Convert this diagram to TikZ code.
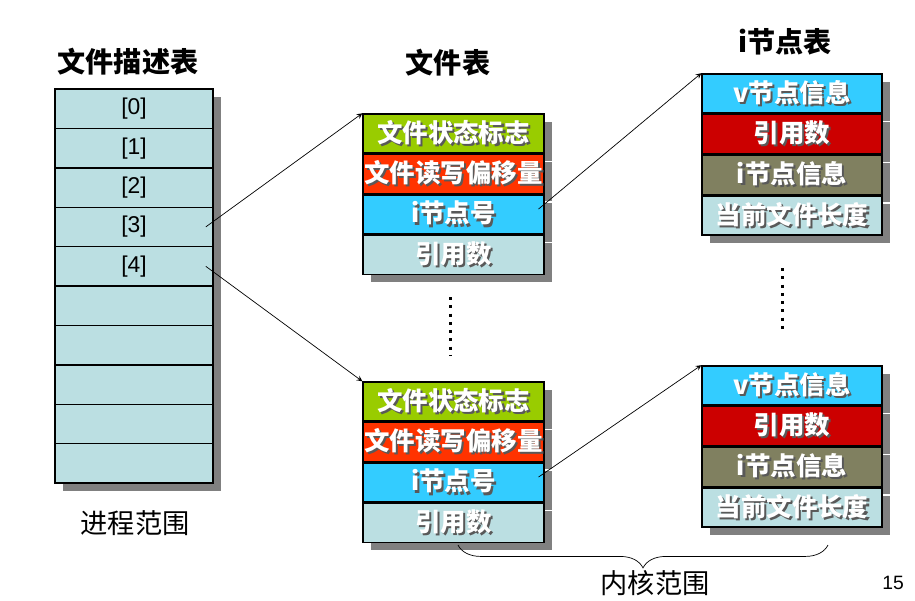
\documentclass[tikz,border=0pt]{standalone}
\usepackage{fontspec}
\usepackage{tikz}
\usetikzlibrary{positioning,shadows,decorations.pathreplacing}
\setmainfont{Liberation Sans}
\newfontfamily\cjk{Noto Sans CJK SC}
\definecolor{fgreen}{HTML}{99CC00}
\definecolor{fred}{HTML}{FF3300}
\definecolor{fcyan}{HTML}{33CCFF}
\definecolor{flight}{HTML}{BBDFE2}
\definecolor{ired}{HTML}{CC0000}
\definecolor{iolive}{HTML}{808060}
\newcommand{\shd}[1]{\makebox[0pt][l]{\hspace{1.2pt}\raisebox{-1.2pt}{\textcolor{black!65}{#1}}}#1}
\tikzset{
  cell/.style={draw=black, line width=0.8pt, inner sep=0pt, text=white,
    font=\cjk\bfseries\fontsize{14.5}{17}\selectfont,
    drop shadow={shadow xshift=4.5pt, shadow yshift=-4.5pt, opacity=1, fill=black!50}},
  fcell/.style={cell, minimum width=3.62cm, minimum height=0.78cm},
  icell/.style={cell, minimum width=3.6cm, minimum height=0.785cm},
  dcell/.style={cell, fill=flight, text=black, minimum width=3.16cm, minimum height=0.788cm,
    font=\fontsize{13}{15}\selectfont},
  title/.style={font=\cjk\bfseries\fontsize{16}{19}\selectfont},
  note/.style={font=\cjk\fontsize{15.5}{18}\selectfont}
}
\begin{document}
\begin{tikzpicture}[x=0.02cm, y=-0.02cm, >=stealth]
    \useasboundingbox (0,0) rectangle (915,600);
    % titles
    \node[title] (t1) at (128,62) {文件描述表};
    \node[title] (t2) at (448,63) {文件表};
    \node[title] (t3) at (785,42) {i节点表};
    % file descriptor table
    \foreach \i/\t in {0/[0],1/[1],2/[2],3/[3],4/[4],5/{},6/{},7/{},8/{},9/{}}
        \node[dcell] (d\i) at (134,108.7+39.4*\i) {\t};
    \node[note] (proc) at (135,523) {进程范围};
    % file table, top
    \node[fcell, fill=fgreen] (fa1) at (453.5,133.5) {\shd{文件状态标志}};
    \node[fcell, fill=fred, below=0pt of fa1] (fa2) {\shd{文件读写偏移量}};
    \node[fcell, fill=fcyan, below=0pt of fa2] (fa3) {\shd{i节点号}};
    \node[fcell, fill=flight, below=0pt of fa3] (fa4) {\shd{引用数}};
    % file table, bottom
    \node[fcell, fill=fgreen] (fb1) at (453.5,401.5) {\shd{文件状态标志}};
    \node[fcell, fill=fred, below=0pt of fb1] (fb2) {\shd{文件读写偏移量}};
    \node[fcell, fill=fcyan, below=0pt of fb2] (fb3) {\shd{i节点号}};
    \node[fcell, fill=flight, below=0pt of fb3] (fb4) {\shd{引用数}};
    % inode table, top
    \node[icell, fill=fcyan] (ia1) at (792,93.5) {\shd{v节点信息}};
    \node[icell, fill=ired, below=0pt of ia1] (ia2) {\shd{引用数}};
    \node[icell, fill=iolive, below=0pt of ia2] (ia3) {\shd{i节点信息}};
    \node[icell, fill=flight, below=0pt of ia3] (ia4) {\shd{当前文件长度}};
    % inode table, bottom
    \node[icell, fill=fcyan] (ib1) at (792,385.5) {\shd{v节点信息}};
    \node[icell, fill=ired, below=0pt of ib1] (ib2) {\shd{引用数}};
    \node[icell, fill=iolive, below=0pt of ib2] (ib3) {\shd{i节点信息}};
    \node[icell, fill=flight, below=0pt of ib3] (ib4) {\shd{当前文件长度}};
    % pointers
    \draw[->] ([xshift=-4.5pt]d3.east) -- (fa1.north west);
    \draw[->] ([xshift=-4.5pt]d4.east) -- (fb1.north west);
    \draw[->] ([xshift=-3.5pt,yshift=3pt]fa3.east) -- (ia1.north west);
    \draw[->] ([xshift=-3.5pt,yshift=3pt]fb3.east) -- (ib1.north west);
    % ellipses
    \coordinate (m1) at (450,297); \coordinate (m2) at (450,356);
    \coordinate (n1) at (782,268); \coordinate (n2) at (782,330);
    \draw[line width=1.7pt, dash pattern=on 1.7pt off 3pt] (m1) -- (m2);
    \draw[line width=1.7pt, dash pattern=on 1.7pt off 3pt] (n1) -- (n2);
    % kernel brace
    \coordinate (k1) at (458,545); \coordinate (k2) at (828,545);
    \draw[decorate, decoration={brace, mirror, amplitude=13pt}] (k1) -- (k2);
    \node[note] (kern) at (655,583) {内核范围};
    \node[font=\fontsize{11}{13}\selectfont] (page) at (893,583) {15};
\end{tikzpicture}
\end{document}
